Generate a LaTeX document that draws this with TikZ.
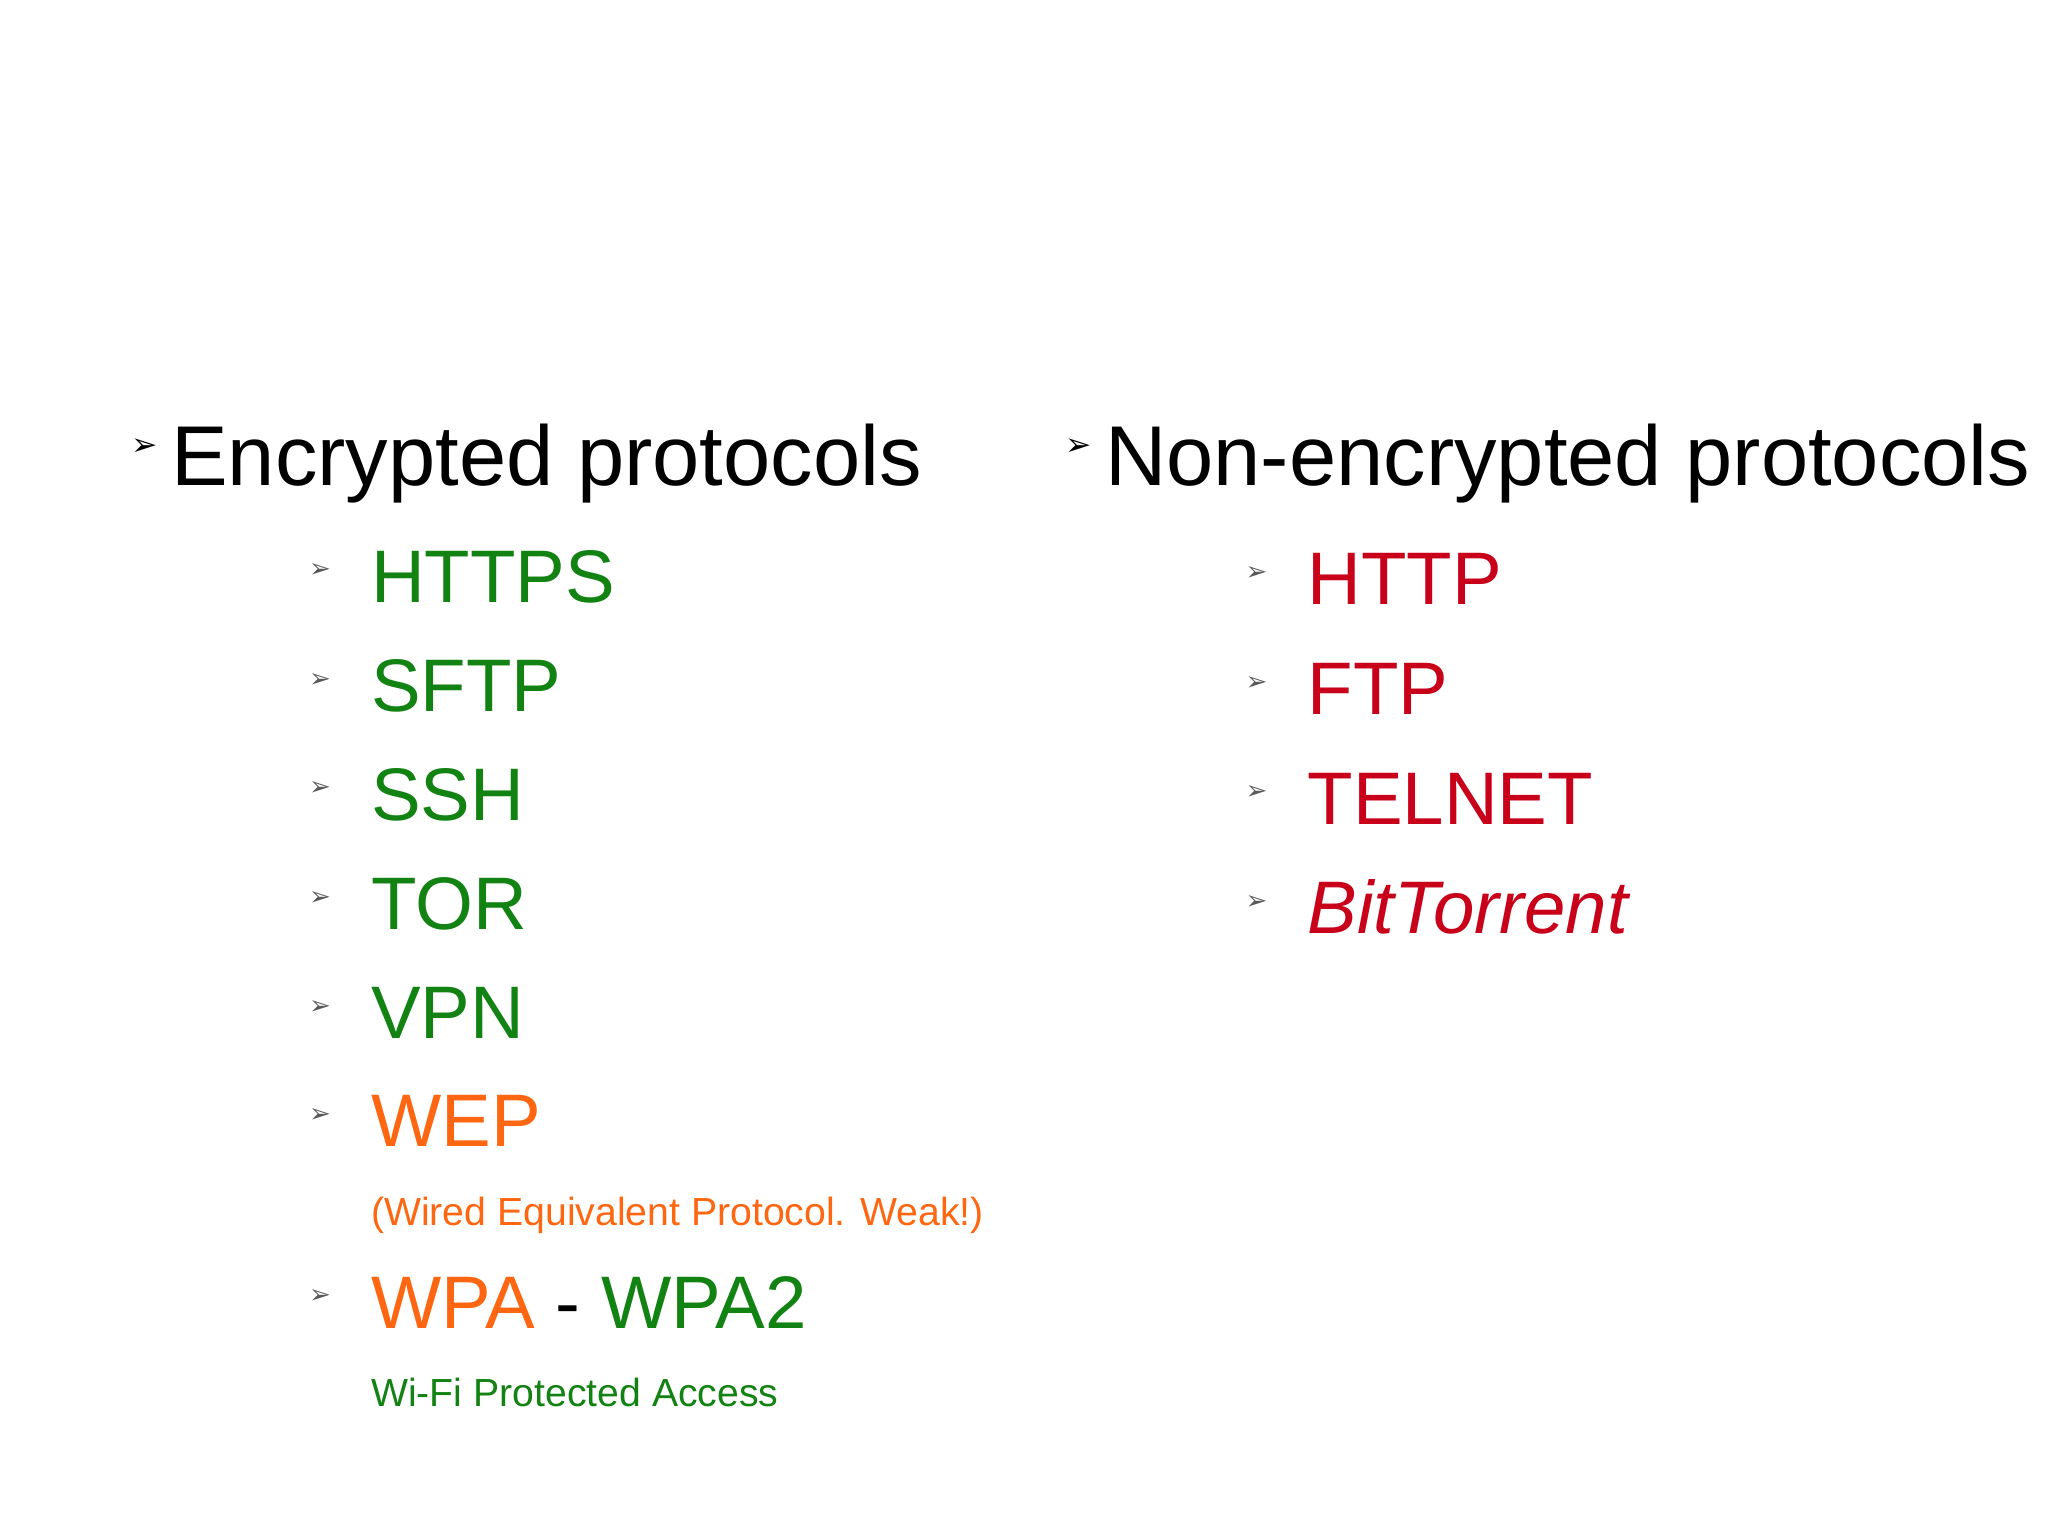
\documentclass[tikz,border=0pt]{standalone}
\usepackage{fontspec}
\setmainfont{Liberation Sans}
\newfontfamily\dv{DejaVu Sans}
\definecolor{gr}{HTML}{128212}
\definecolor{orng}{HTML}{FF6611}
\definecolor{rd}{HTML}{C8001A}
\tikzset{
 head/.style={anchor=base west,inner sep=0pt,font=\fontsize{65}{70}\selectfont},
 item/.style={anchor=base west,inner sep=0pt,font=\fontsize{57}{62}\selectfont},
 sub/.style={anchor=base west,inner sep=0pt,font=\fontsize{30}{34}\selectfont},
 hb/.style={inner sep=0pt,font=\dv\fontsize{24}{26}\selectfont},
 ib/.style={inner sep=0pt,text=black!65,font=\dv\fontsize{20}{22}\selectfont},
}
\begin{document}
\begin{tikzpicture}[x=1pt,y=-1pt]
\useasboundingbox (0,0) rectangle (1568,1176);
\node[hb] (b1) at (111,342) {➢};
\node[head] (h1) at (131,372) {Encrypted protocols};
\node[hb] (b2) at (826,342) {➢};
\node[head] (h2) at (846,372) {Non-encrypted protocols};
\foreach \n/\y/\c/\t in {a/461/gr/HTTPS,b/545/gr/SFTP,c/628/gr/SSH,d/712/gr/TOR,e/795/gr/VPN,f/878/orng/WEP}{
 \node[ib] (lb\n) at (245,{\y-24}) {➢};
 \node[item,text=\c] (l\n) at (284,\y) {\t};
}
\node[sub,text=orng] (wepd) at (284,938) {(Wired Equivalent Protocol. Weak!)};
\node[ib] (lbg) at (245,993) {➢};
\node[item] (lg) at (284,1017) {\textcolor{orng}{WPA} - \textcolor{gr}{WPA2}};
\node[sub,text=gr] (wpad) at (284,1077) {Wi-Fi Protected Access};
\foreach \n/\y/\t in {a/463/HTTP,b/547/FTP,c/631/TELNET}{
 \node[ib] (rb\n) at (962,{\y-24}) {➢};
 \node[item,text=rd] (r\n) at (1001,\y) {\t};
}
\node[ib] (rbd) at (962,691) {➢};
\node[item,text=rd] (rd) at (1001,715) {\itshape BitTorrent};
\end{tikzpicture}
\end{document}
